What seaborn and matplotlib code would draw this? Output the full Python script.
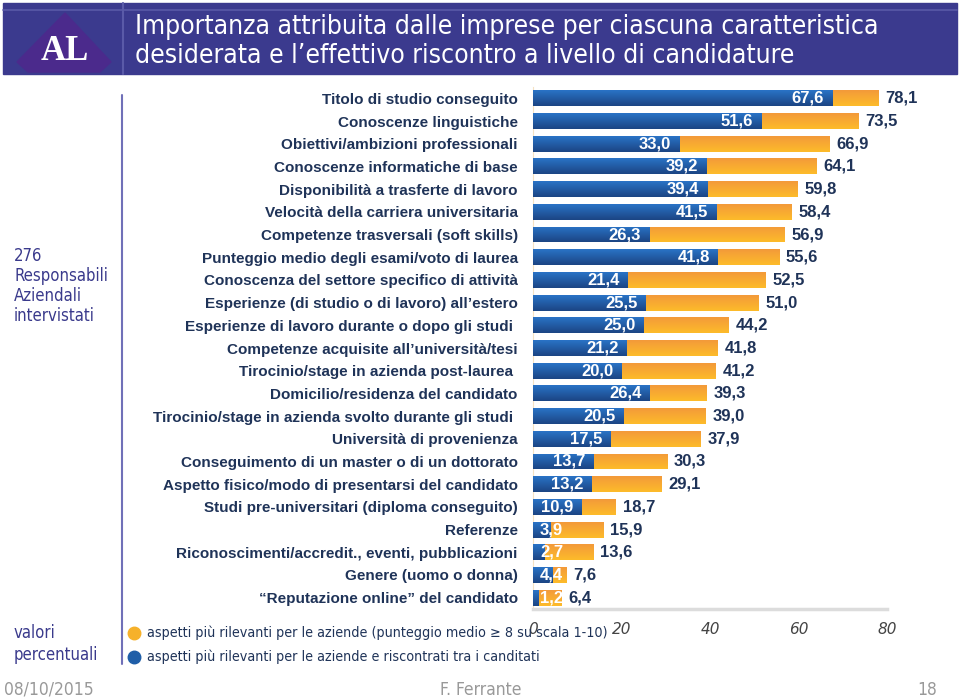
import matplotlib
matplotlib.use('Agg')
import matplotlib.pyplot as plt
import seaborn as sns
import numpy as np
import pandas as pd
from matplotlib import font_manager
from matplotlib.colors import LinearSegmentedColormap
from matplotlib.patches import Polygon, Rectangle
from matplotlib.lines import Line2D

# Data
categories = [
    "Titolo di studio conseguito",
    "Conoscenze linguistiche",
    "Obiettivi/ambizioni professionali",
    "Conoscenze informatiche di base",
    "Disponibilità a trasferte di lavoro",
    "Velocità della carriera universitaria",
    "Competenze trasversali (soft skills)",
    "Punteggio medio degli esami/voto di laurea",
    "Conoscenza del settore specifico di attività",
    "Esperienze (di studio o di lavoro) all’estero",
    "Esperienze di lavoro durante o dopo gli studi ",
    "Competenze acquisite all’università/tesi",
    "Tirocinio/stage in azienda post-laurea ",
    "Domicilio/residenza del candidato",
    "Tirocinio/stage in azienda svolto durante gli studi ",
    "Università di provenienza",
    "Conseguimento di un master o di un dottorato",
    "Aspetto fisico/modo di presentarsi del candidato",
    "Studi pre-universitari (diploma conseguito)",
    "Referenze",
    "Riconoscimenti/accredit., eventi, pubblicazioni",
    "Genere (uomo o donna)",
    "“Reputazione online” del candidato",
]
importanza = [78.1, 73.5, 66.9, 64.1, 59.8, 58.4, 56.9, 55.6, 52.5, 51.0, 44.2, 41.8,
              41.2, 39.3, 39.0, 37.9, 30.3, 29.1, 18.7, 15.9, 13.6, 7.6, 6.4]
riscontro = [67.6, 51.6, 33.0, 39.2, 39.4, 41.5, 26.3, 41.8, 21.4, 25.5, 25.0, 21.2,
             20.0, 26.4, 20.5, 17.5, 13.7, 13.2, 10.9, 3.9, 2.7, 4.4, 1.2]
x_ticks = [0, 20, 40, 60, 80]

df = pd.DataFrame({"cat": categories, "imp": importanza, "ris": riscontro})

W, H = 960, 698
NAVY = "#1f3358"
BAND = "#3b3a8e"
INK = "#3a3a8c"

sns.set_style("white")
names = {f.name for f in font_manager.fontManager.ttflist}
NARROW = "Liberation Sans Narrow" if "Liberation Sans Narrow" in names else "DejaVu Sans"
plt.rcParams['font.family'] = ['Liberation Sans', 'DejaVu Sans']

fig = plt.figure(figsize=(W / 100, H / 100), dpi=100)


def fx(px):
    return px / W


def fy(py):
    return 1 - py / H


def fit(txt, width_px):
    # scale font so the text spans the wanted pixel width
    r = fig.canvas.get_renderer()
    w = txt.get_window_extent(r).width
    txt.set_fontsize(txt.get_fontsize() * width_px / w)
    return txt.get_fontsize()


# Banner
fig.add_artist(Rectangle((fx(3), fy(74)), fx(954), 71 / H, transform=fig.transFigure,
                         color=BAND, zorder=0))
fig.add_artist(Line2D([fx(3), fx(957)], [fy(10), fy(10)], transform=fig.transFigure,
                      color="#5a5aa8", lw=1.2))
fig.add_artist(Line2D([fx(123), fx(123)], [fy(3), fy(74)], transform=fig.transFigure,
                      color="#5a5aa8", lw=1.5))
logo = [(65, 13), (111, 62), (100, 72), (28, 72), (17, 62)]
fig.add_artist(Polygon([(fx(a), fy(b)) for a, b in logo], closed=True,
                       transform=fig.transFigure, color="#4b2a8c", zorder=1))
fig.text(fx(65), fy(52), "AL", family=['Liberation Serif', 'DejaVu Serif'], weight='bold',
         size=25, color='white', ha='center', va='center')
t1 = fig.text(fx(135), fy(27), "Importanza attribuita dalle imprese per ciascuna caratteristica",
              family=[NARROW], fontstretch='condensed', size=18, color='white', va='center')
fs = fit(t1, 745)
fig.text(fx(135), fy(56), "desiderata e l’effettivo riscontro a livello di candidature",
         family=[NARROW], fontstretch='condensed', size=fs, color='white', va='center')

# Left panel
fig.add_artist(Line2D([fx(122), fx(122)], [fy(95), fy(664)], transform=fig.transFigure,
                      color="#7070b8", lw=1.5))
t2 = fig.text(fx(14), fy(286), "276\nResponsabili\nAziendali\nintervistati", family=[NARROW],
              fontstretch='condensed', size=12, color=INK, va='center', linespacing=1.15)
fig.text(fx(14), fy(644), "valori\npercentuali", family=[NARROW], fontstretch='condensed',
         size=t2.get_fontsize(), color=INK, va='center', linespacing=1.25)

# Chart
ax = fig.add_axes([fx(533), fy(609), fx(887) - fx(533), (609 - 87) / H])
sns.barplot(data=df, y="cat", x="imp", color="#f5a623", width=0.7, orient='h', ax=ax)
sns.barplot(data=df, y="cat", x="ris", color="#1f5ea8", width=0.7, orient='h', ax=ax)

n = len(categories)
orange_cmap = LinearSegmentedColormap.from_list("o", ["#f39a3a", "#fdbb2a"])
blue_cmap = LinearSegmentedColormap.from_list("b", ["#2a73c6", "#1b4584"])
grad = np.linspace(0, 1, 64).reshape(-1, 1)
for k, p in enumerate(ax.patches):
    cmap = orange_cmap if k < n else blue_cmap
    x0, y0, w, h = p.get_x(), p.get_y(), p.get_width(), p.get_height()
    im = ax.imshow(grad, cmap=cmap, aspect='auto', extent=(x0, x0 + w, y0 + h, y0),
                   origin='upper', zorder=2 if k < n else 3, interpolation='bilinear')
    im.set_clip_path(p)
    p.set_facecolor('none')
    p.set_edgecolor('none')

for i, (a, b) in enumerate(zip(importanza, riscontro)):
    ax.annotate(f"{a:.1f}".replace('.', ','), xy=(a, i), xytext=(5, 0), textcoords='offset points',
                ha='left', va='center', color=NAVY, weight='bold', size=12, zorder=5,
                annotation_clip=False)
    if b < 5:
        ax.annotate(f"{b:.1f}".replace('.', ','), xy=(0, i), xytext=(5, 0),
                    textcoords='offset points', ha='left', va='center', color='white',
                    weight='bold', size=12, zorder=5)
    else:
        ax.annotate(f"{b:.1f}".replace('.', ','), xy=(b, i), xytext=(-6, 0),
                    textcoords='offset points', ha='right', va='center', color='white',
                    weight='bold', size=12, zorder=5)

ax.set_xlim(0, 80)
ax.set_ylim(n - 0.5, -0.5)
ax.set_xticks(x_ticks)
ax.set_xticklabels([str(t) for t in x_ticks], family=[NARROW], style='italic', size=11,
                   color="#444444")
ax.tick_params(axis='x', length=0, pad=9)
ax.tick_params(axis='y', length=0, pad=11, labelsize=11, labelcolor=NAVY)
for lab in ax.get_yticklabels():
    lab.set_fontweight('bold')
ax.set_xlabel("")
ax.set_ylabel("")
for s in ["top", "right"]:
    ax.spines[s].set_visible(False)
ax.spines["bottom"].set_color("#dcdcdc")
ax.spines["bottom"].set_linewidth(2.5)
ax.spines["left"].set_color("#f5e2c4")
ax.spines["left"].set_linewidth(0.8)

# Legend
fig.add_artist(Line2D([fx(134)], [fy(633)], marker='o', markersize=9, color="#f6b12a",
                      transform=fig.transFigure))
fig.add_artist(Line2D([fx(134)], [fy(657)], marker='o', markersize=9, color="#1f5ea8",
                      transform=fig.transFigure))
l1 = fig.text(fx(147), fy(633), "aspetti più rilevanti per le aziende (punteggio medio ≥ 8 su scala 1-10)",
              family=[NARROW, 'DejaVu Sans'], fontstretch='condensed', size=10, color=NAVY,
              va='center')
fs = fit(l1, 460)
fig.text(fx(147), fy(657), "aspetti più rilevanti per le aziende e riscontrati tra i canditati",
         family=[NARROW, 'DejaVu Sans'], fontstretch='condensed', size=fs, color=NAVY,
         va='center')

# Footer
ft = dict(family=[NARROW], fontstretch='condensed', size=12.5, color="#999999", va='center')
fig.text(fx(4), fy(690), "08/10/2015", ha='left', **ft)
fig.text(fx(481), fy(690), "F. Ferrante", ha='center', **ft)
fig.text(fx(937), fy(690), "18", ha='right', **ft)

plt.savefig("out.png", dpi=100)
